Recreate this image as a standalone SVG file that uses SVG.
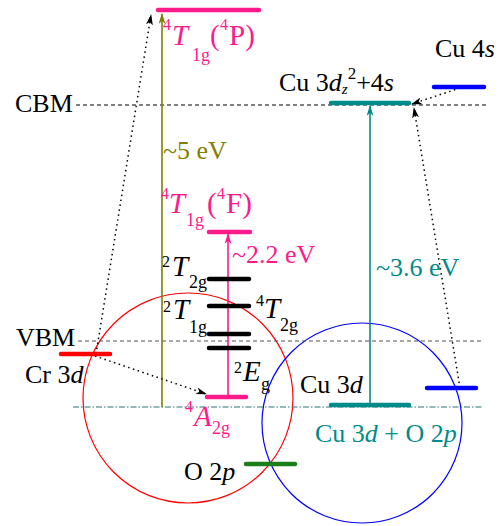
<svg xmlns="http://www.w3.org/2000/svg" width="502" height="526" viewBox="0 0 502 526" font-family="'Liberation Serif', 'Times New Roman', serif">
<defs>
<style>
text{font-family:'Liberation Serif','Times New Roman',serif;font-size:26px}
.it{font-style:italic}
.sub{font-size:18px}
.sup{font-size:16px}
.big{font-size:29px}
.pink{fill:#ff1a8c}
.lvl{stroke-width:4.5;stroke-linecap:round;fill:none}
.dot{stroke:#000;stroke-width:1.5;stroke-dasharray:1.5,3.5;fill:none}
</style>
<marker id="ahK" markerWidth="11" markerHeight="8" refX="10" refY="4" orient="auto" markerUnits="userSpaceOnUse"><path d="M0,0.5 L11,4 L0,7.5 L3,4 z" fill="#000"/></marker>
<marker id="ahO" markerWidth="11" markerHeight="7" refX="10" refY="3.5" orient="auto" markerUnits="userSpaceOnUse"><path d="M0,0 L11,3.5 L0,7 L3,3.5 z" fill="#808000"/></marker>
<marker id="ahP" markerWidth="11" markerHeight="7" refX="10" refY="3.5" orient="auto" markerUnits="userSpaceOnUse"><path d="M0,0 L11,3.5 L0,7 L3,3.5 z" fill="#ff1a8c"/></marker>
<marker id="ahT" markerWidth="11" markerHeight="7" refX="10" refY="3.5" orient="auto" markerUnits="userSpaceOnUse"><path d="M0,0 L11,3.5 L0,7 L3,3.5 z" fill="#008b8b"/></marker>
</defs>

<g id="circles">
<circle id="cr-circle" cx="188" cy="398" r="105" fill="none" stroke="#ff0000" stroke-width="1.2"/>
<circle id="cu-circle" cx="362" cy="423" r="100" fill="none" stroke="#0000ff" stroke-width="1.2"/>
</g>

<g id="reference-lines">
<line x1="76" y1="105" x2="487" y2="105" stroke="#000" stroke-width="1" stroke-dasharray="4,3"/>
<line x1="78" y1="341" x2="484" y2="341" stroke="#555" stroke-width="1.2" stroke-dasharray="4,3"/>
<line x1="73" y1="407" x2="482" y2="407" stroke="#2f7373" stroke-width="1" stroke-dasharray="6,2,1.5,2"/>
</g>

<g id="connectors">
<line x1="162" y1="407" x2="162" y2="14" stroke="#808000" stroke-width="1.6" marker-end="url(#ahO)"/>
<line x1="228" y1="397" x2="228" y2="234" stroke="#ff1a8c" stroke-width="1.6" marker-end="url(#ahP)"/>
<line x1="370" y1="405" x2="370" y2="106" stroke="#008b8b" stroke-width="1.6" marker-end="url(#ahT)"/>
<line class="dot" x1="96" y1="354" x2="151" y2="15" marker-end="url(#ahK)"/>
<line class="dot" x1="95" y1="356" x2="206" y2="394" marker-end="url(#ahK)"/>
<line class="dot" x1="460" y1="88" x2="412" y2="104" marker-end="url(#ahK)"/>
<line class="dot" x1="460" y1="388" x2="414" y2="108" marker-end="url(#ahK)"/>
</g>

<g id="n-4P">
<line class="lvl" x1="158" y1="10" x2="259" y2="10" stroke="#ff1a8c"/>
<text class="pink"><tspan class="sup" x="163" y="30">4</tspan><tspan class="big it" x="172" y="45">T</tspan><tspan class="sub" x="192" y="61">1g</tspan><tspan class="big" x="210" y="45">(</tspan><tspan class="sup" x="220" y="30">4</tspan><tspan class="big" x="229" y="45">P)</tspan></text>
</g>

<g id="n-4F">
<line class="lvl" x1="209" y1="232" x2="250" y2="232" stroke="#ff1a8c"/>
<text class="pink"><tspan class="sup" x="161" y="199">4</tspan><tspan class="big it" x="169" y="213">T</tspan><tspan class="sub" x="186" y="226">1g</tspan><tspan class="big" x="207" y="213">(</tspan><tspan class="sup" x="217" y="199">4</tspan><tspan class="big" x="226" y="213">F)</tspan></text>
</g>

<g id="n-2T2g">
<line class="lvl" x1="209" y1="279" x2="249" y2="279" stroke="#000"/>
<text><tspan class="sup" x="162" y="267">2</tspan><tspan class="big it" x="172" y="276">T</tspan><tspan class="sub" x="189" y="288">2g</tspan></text>
</g>

<g id="n-4T2g">
<line class="lvl" x1="209" y1="306" x2="249" y2="306" stroke="#000"/>
<text><tspan class="sup" x="256" y="306">4</tspan><tspan class="big it" x="264" y="318">T</tspan><tspan class="sub" x="280" y="331">2g</tspan></text>
</g>

<g id="n-2T1g">
<line class="lvl" x1="209" y1="334" x2="249" y2="334" stroke="#000"/>
<text><tspan class="sup" x="163" y="312">2</tspan><tspan class="big it" x="173" y="319">T</tspan><tspan class="sub" x="189" y="333">1g</tspan></text>
</g>

<g id="n-2Eg">
<line class="lvl" x1="209" y1="348" x2="249" y2="348" stroke="#000"/>
<text><tspan class="sup" x="234" y="373">2</tspan><tspan class="big it" x="243" y="381">E</tspan><tspan class="sub" x="261" y="390">g</tspan></text>
</g>

<g id="n-4A2g">
<line class="lvl" x1="207" y1="397" x2="246" y2="397" stroke="#ff1a8c"/>
<text class="pink"><tspan class="sup" x="185" y="412">4</tspan><tspan class="big it" x="194" y="426">A</tspan><tspan class="sub" x="212" y="434">2g</tspan></text>
</g>

<g id="n-Cr3d">
<line class="lvl" x1="61" y1="354" x2="110" y2="354" stroke="#ff0000"/>
<text x="25" y="383">Cr 3<tspan class="it">d</tspan></text>
</g>

<g id="n-Cu3dz2">
<line class="lvl" x1="331" y1="103" x2="409" y2="103" stroke="#008b8b"/>
<text x="279" y="91">Cu 3<tspan class="it">d</tspan><tspan class="it" font-size="15" dy="3">z</tspan><tspan font-size="17" dy="-15">2</tspan><tspan dy="12">+4</tspan><tspan class="it">s</tspan></text>
</g>

<g id="n-Cu4s">
<line class="lvl" x1="434" y1="87" x2="484" y2="87" stroke="#0000ff"/>
<text x="435" y="57">Cu 4<tspan class="it">s</tspan></text>
</g>

<g id="n-Cu3d">
<line class="lvl" x1="331" y1="405" x2="409" y2="405" stroke="#008b8b"/>
<text x="300" y="393">Cu 3<tspan class="it">d</tspan></text>
</g>

<g id="n-Cu3dO2p">
<line class="lvl" x1="427" y1="388" x2="476" y2="388" stroke="#0000ff"/>
<text x="315" y="442" fill="#008b8b">Cu 3<tspan class="it">d</tspan> + O 2<tspan class="it">p</tspan></text>
</g>

<g id="n-O2p">
<line class="lvl" x1="246" y1="464" x2="295" y2="464" stroke="#1a7f1a"/>
<text x="184" y="480">O 2<tspan class="it">p</tspan></text>
</g>

<g id="labels">
<text x="15" y="112">CBM</text>
<text x="16" y="346">VBM</text>
<text x="163" y="159" fill="#808000">~5 eV</text>
<text x="232" y="263" class="pink">~2.2 eV</text>
<text x="376" y="276" fill="#008b8b">~3.6 eV</text>
</g>
</svg>
